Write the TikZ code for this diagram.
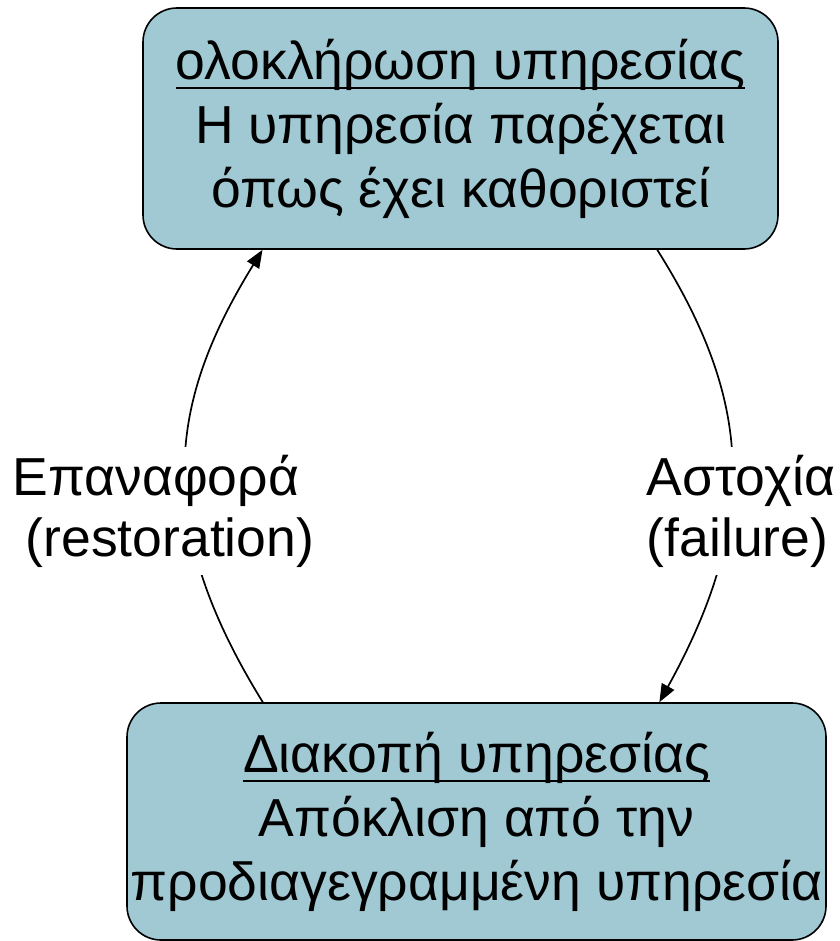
\documentclass[tikz,border=0pt]{standalone}
\usepackage{fontspec}
\setmainfont{Liberation Sans}
\usetikzlibrary{arrows.meta,calc}
\definecolor{boxblue}{HTML}{A1C9D3}
\newcommand\ulin[1]{\setbox0\hbox{#1}\leavevmode\rlap{\rule[-10pt]{\wd0}{2pt}}\box0}
\begin{document}
\begin{tikzpicture}[x=1pt,y=-1pt,
  box/.style={draw=black, line width=1.6pt, fill=boxblue, rounded corners=34pt,
    align=center, inner sep=0pt, font=\fontsize{53.5}{64}\selectfont},
  lbl/.style={align=left, inner xsep=2pt, inner ysep=8pt, fill=white,
    font=\fontsize{53.5}{61}\selectfont},
  conn/.style={line width=1.7pt},
  tipstyle/.style={-{Triangle[length=18pt,width=14pt]}}]
\useasboundingbox (0,0) rectangle (839,941);
\node[box, minimum width=635pt, minimum height=241pt] (top) at (460.5,128.5)
  {\ulin{ολοκλήρωση υπηρεσίας}\\Η υπηρεσία παρέχεται\\όπως έχει καθοριστεί};
\node[box, minimum width=699pt, minimum height=237pt] (bot) at (476.5,821.5)
  {\ulin{Διακοπή υπηρεσίας}\\Απόκλιση από την\\προδιαγεγραμμένη υπηρεσία};
\coordinate (ls) at ($(bot.north west)!0.195!(bot.north east)$);
\coordinate (le) at ($(top.south west)!0.189!(top.south east)$);
\coordinate (rs) at ($(top.south west)!0.809!(top.south east)$);
\coordinate (re) at ($(bot.north west)!0.761!(bot.north east)$);
\draw[conn, tipstyle] (ls) .. controls (150,520) and (170,400) .. (le);
\draw[conn, tipstyle] (rs) .. controls (752,400) and (760,520) .. (re);
\node[lbl] (restore) at (163.5,511) {Επαναφορά\\\hspace*{13pt}(restoration)};
\node[lbl] (fail) at (741,511) {Αστοχία\\(failure)};
\end{tikzpicture}
\end{document}
